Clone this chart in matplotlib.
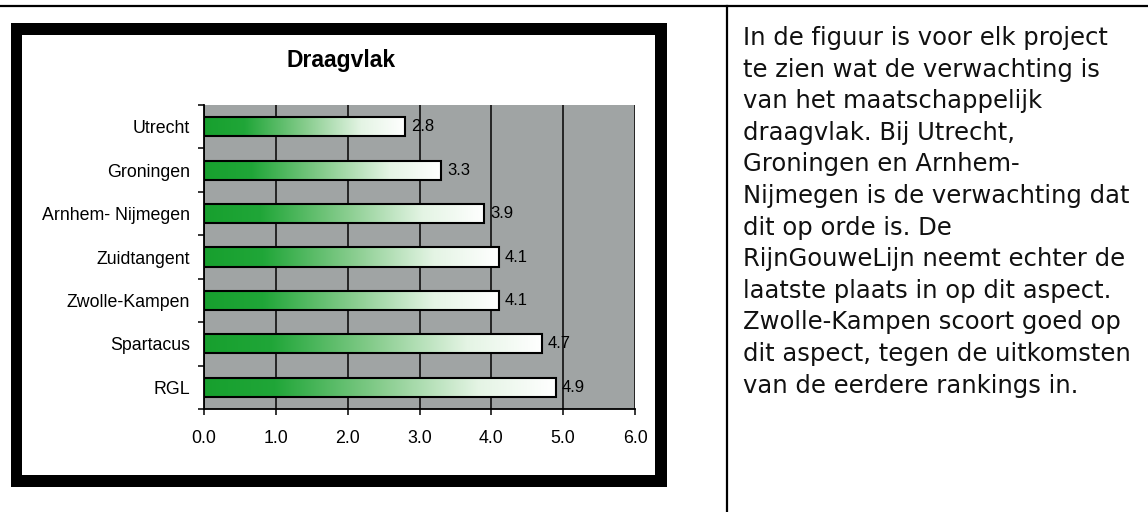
import matplotlib
matplotlib.use("Agg")
import matplotlib.pyplot as plt
import numpy as np
from matplotlib.patches import Rectangle
from matplotlib.lines import Line2D
from matplotlib.colors import LinearSegmentedColormap

# ---- data ----
categories = ["Utrecht", "Groningen", "Arnhem- Nijmegen", "Zuidtangent",
              "Zwolle-Kampen", "Spartacus", "RGL"]
values = [2.8, 3.3, 3.9, 4.1, 4.1, 4.7, 4.9]
x_ticks = [0, 1, 2, 3, 4, 5, 6]
x_tick_labels = ["0.0", "1.0", "2.0", "3.0", "4.0", "5.0", "6.0"]
title = "Draagvlak"
text_lines = [
    "In de figuur is voor elk project",
    "te zien wat de verwachting is",
    "van het maatschappelijk",
    "draagvlak. Bij Utrecht,",
    "Groningen en Arnhem-",
    "Nijmegen is de verwachting dat",
    "dit op orde is. De",
    "RijnGouweLijn neemt echter de",
    "laatste plaats in op dit aspect.",
    "Zwolle-Kampen scoort goed op",
    "dit aspect, tegen de uitkomsten",
    "van de eerdere rankings in.",
]

W, H = 1148, 512
fig = plt.figure(figsize=(W / 100, H / 100), dpi=100)
fig.patch.set_facecolor("white")

def fx(x):
    return x / W

def fy(y):
    return 1 - y / H

# page table lines
fig.add_artist(Line2D([0, 1], [fy(6), fy(6)], color="black", lw=1.6))
fig.add_artist(Line2D([fx(726.5), fx(726.5)], [fy(6), 0], color="black", lw=1.6))

# chart frame
fig.add_artist(Rectangle((fx(11), fy(487)), fx(667) - fx(11), fy(23) - fy(487),
                         facecolor="black", edgecolor="none", zorder=0))
fig.add_artist(Rectangle((fx(22), fy(475)), fx(655) - fx(22), fy(35) - fy(475),
                         facecolor="white", edgecolor="none", zorder=0.5))

# title
fig.text(fx(341), fy(61), title, ha="center", va="center",
         fontsize=16.5, fontweight="bold", family="Liberation Sans", zorder=3)

# axes
ax = fig.add_axes([fx(204), fy(409), fx(635) - fx(204), fy(105) - fy(409)])
ax.set_zorder(2)
ax.set_facecolor("#a0a4a4")
ypos = np.arange(len(categories))
bar_h = 0.44
cmap = LinearSegmentedColormap.from_list(
    "g", [(0, "#17a02e"), (0.2, "#20a638"), (0.5, "#86cc8c"),
          (0.78, "#e4f4e4"), (1, "#ffffff")])
grad = np.linspace(0, 1, 256).reshape(1, -1)
bars = ax.barh(ypos, values, height=bar_h, facecolor="none",
               edgecolor="black", linewidth=1.5, zorder=4)
for b, v, y in zip(bars, values, ypos):
    im = ax.imshow(grad, cmap=cmap, aspect="auto", interpolation="bilinear",
                   extent=[0, v, y + bar_h / 2, y - bar_h / 2], zorder=3)
    im.set_clip_path(b)
    ax.annotate(f"{v:.1f}", xy=(v, y), xytext=(6, 0), textcoords="offset pixels",
                ha="left", va="center", fontsize=12, family="Liberation Sans")

ax.set_xlim(0, 6)
ax.set_ylim(len(categories) - 0.5, -0.5)
ax.set_xticks(x_ticks)
ax.set_xticklabels(x_tick_labels, family="Liberation Sans", fontsize=12.8)
ax.set_yticks(ypos)
ax.set_yticklabels(categories, family="Liberation Sans", fontsize=12.8)
ax.set_yticks(np.arange(-0.5, len(categories)), minor=True)
ax.tick_params(axis="y", which="major", length=0, pad=10)
ax.tick_params(axis="y", which="minor", length=4, width=1.1, direction="out")
ax.tick_params(axis="x", which="major", length=4, width=1.1, direction="out", pad=11)
ax.grid(axis="x", color="#1a1a1a", linewidth=1.3, zorder=1)
ax.set_axisbelow(True)
for s in ["top", "right"]:
    ax.spines[s].set_visible(False)
for s in ["left", "bottom"]:
    ax.spines[s].set_linewidth(1.3)
    ax.spines[s].set_zorder(5)

# right text column
for i, line in enumerate(text_lines):
    fig.text(fx(743), fy(45 + 31.6 * i), line, ha="left", va="baseline",
             fontsize=17.5, family="DejaVu Sans", color="#111111")

fig.savefig("out.png", dpi=100, facecolor="white")
